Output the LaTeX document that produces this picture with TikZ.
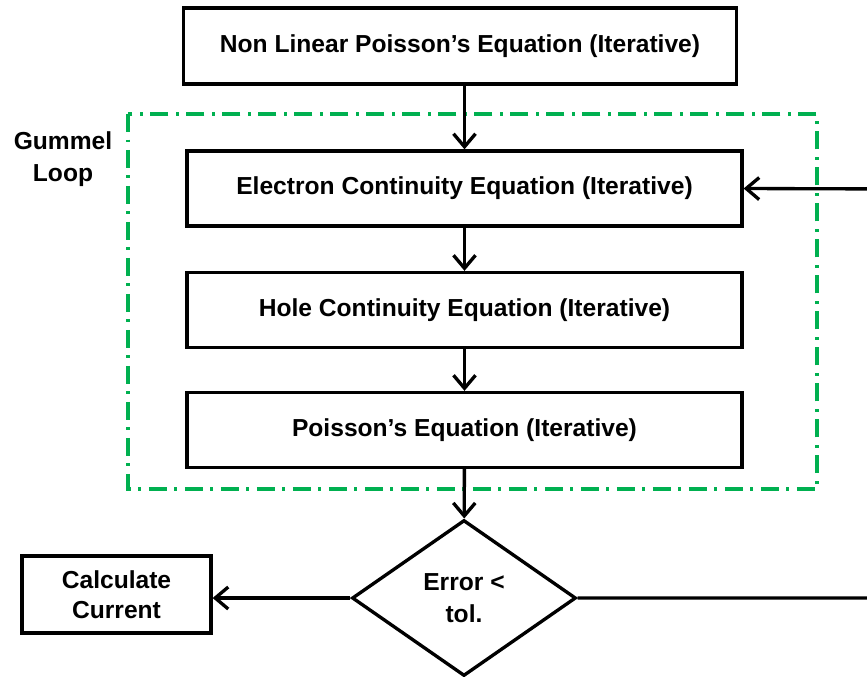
\documentclass[tikz,border=0pt]{standalone}
\usepackage{fontspec}
\setmainfont{Liberation Sans}
\usetikzlibrary{shapes.geometric, arrows.meta}
\definecolor{loopGreen}{RGB}{0,176,80}
\tikzstyle{stepBox}=[draw=black, line width=1.9pt, minimum width=11.1cm, minimum height=1.5cm, inner sep=0pt, font=\fontsize{14}{17}\selectfont\bfseries]
\tikzstyle{decision}=[diamond, draw=black, line width=1.9pt, minimum width=4.48cm, minimum height=3.12cm, inner sep=0pt, align=center, font=\fontsize{14}{18}\selectfont\bfseries]
\tikzstyle{flow}=[line width=1.9pt, -{Straight Barb[length=2.6mm, width=4.4mm]}]
\tikzstyle{loopFrame}=[loopGreen, line width=1.9pt, dash pattern=on 0.36cm off 0.15cm on 0.06cm off 0.15cm]

\begin{document}
\begin{tikzpicture}[x=0.02cm, y=-0.02cm]
				\useasboundingbox (0,0) rectangle (867,677);
				\fill[white] (0,0) rectangle (867,677);

				% Gummel loop frame
				\draw[loopFrame] (128,114) rectangle (817,489);
				\node[align=center, font=\fontsize{14}{18}\selectfont\bfseries] (gummel) at (63,159) {Gummel\\Loop};

				\node[stepBox, minimum width=11.06cm, minimum height=1.52cm] (nonlin) at (460,46) {Non Linear Poisson’s Equation (Iterative)};
				\node[stepBox] (electron) at (464.5,188.5) {Electron Continuity Equation (Iterative)};
				\node[stepBox] (hole) at (464.5,310) {Hole Continuity Equation (Iterative)};
				\node[stepBox] (poisson) at (464.5,430) {Poisson’s Equation (Iterative)};

				\node[decision] (error) at (464,598) {Error <\\tol.};
				\node[stepBox, minimum width=3.78cm, minimum height=1.54cm, align=center] (current) at (116.5,594.5) {Calculate\\Current};

				\coordinate (loopB) at (900,598);
				\coordinate (loopT) at (900,189);

				\draw[flow] (nonlin.south -| electron.north) -- (electron.north);
				\foreach \a/\b in {electron/hole, hole/poisson, poisson/error}{ \draw[flow] (\a) -- (\b); }
				\draw[flow] (error.west) -- (current.east |- error.west);
				\draw[flow] (error.east) -- (loopB) -- (loopT) -- (electron.east);
			\end{tikzpicture}
\end{document}
